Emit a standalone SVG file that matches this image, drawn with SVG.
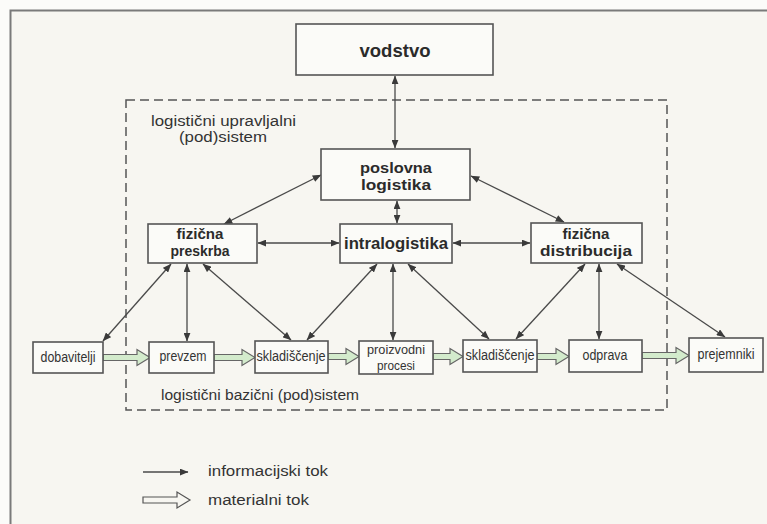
<svg xmlns="http://www.w3.org/2000/svg" width="767" height="524" viewBox="0 0 767 524">
  <style>
    .box { fill: #fbfbf8; stroke: #555; stroke-width: 1.6; }
    .big { font-family: "Liberation Sans", Arial, sans-serif; font-weight: bold; fill: #2b2b2b; text-anchor: middle; }
    .small { font-family: "Liberation Sans", Arial, sans-serif; fill: #333; text-anchor: middle; }
    .lbl { font-family: "Liberation Sans", Arial, sans-serif; fill: #333; }
    .info { stroke: #4a4a4a; stroke-width: 1.3; fill: none; marker-start: url(#ah); marker-end: url(#ah); }
    .mat { fill: #d3ebcc; stroke: #666; stroke-width: 1.2; stroke-linejoin: miter; }
  </style>
  <defs>
    <marker id="ah" viewBox="0 0 10 8" refX="9.5" refY="4" markerWidth="9" markerHeight="7" markerUnits="userSpaceOnUse" orient="auto-start-reverse">
      <path d="M0,0 L10,4 L0,8 z" fill="#3a3a3a"/>
    </marker>
  </defs>

  <!-- page background and frame -->
  <rect x="0" y="0" width="767" height="524" fill="#fbfbf9"/>
  <rect x="10" y="10" width="757" height="514" fill="#f7f6f1"/>
  <path d="M10.5,524 L10.5,10.5 L767,10.5" fill="none" stroke="#7a7a7a" stroke-width="2"/>

  <!-- dashed subsystem boundary -->
  <rect id="subsystem" x="126" y="100" width="541" height="310" fill="none" stroke="#555" stroke-width="1.5" stroke-dasharray="9,5"/>
  <text class="lbl" x="151" y="126" font-size="15.5" textLength="145" lengthAdjust="spacingAndGlyphs">logistični upravljalni</text>
  <text class="lbl" x="179" y="142" font-size="15.5" textLength="88" lengthAdjust="spacingAndGlyphs">(pod)sistem</text>
  <text class="lbl" x="161" y="400" font-size="15.5" textLength="198" lengthAdjust="spacingAndGlyphs">logistični bazični (pod)sistem</text>

  <!-- connectors -->
  <g id="connectors">
    <line class="info" x1="395" y1="76" x2="395" y2="148"/>
    <line class="info" x1="321" y1="175" x2="224" y2="224"/>
    <line class="info" x1="471" y1="176" x2="564" y2="222"/>
    <line class="info" x1="397" y1="201" x2="397" y2="223"/>
    <line class="info" x1="258" y1="243" x2="339" y2="243"/>
    <line class="info" x1="453" y1="243" x2="530" y2="243"/>
    <line class="info" x1="171" y1="264" x2="103" y2="341"/>
    <line class="info" x1="187" y1="264" x2="187" y2="341"/>
    <line class="info" x1="203" y1="264" x2="291" y2="340"/>
    <line class="info" x1="377" y1="264" x2="307" y2="340"/>
    <line class="info" x1="393" y1="264" x2="393" y2="340"/>
    <line class="info" x1="408" y1="264" x2="489" y2="339"/>
    <line class="info" x1="585" y1="264" x2="516" y2="339"/>
    <line class="info" x1="599" y1="264" x2="599" y2="339"/>
    <line class="info" x1="617" y1="264" x2="725" y2="337"/>

    <!-- material flow arrows -->
    <path class="mat" d="M103,354.5 L137,354.5 L137,349.5 L150,357.5 L137,365.5 L137,360.5 L103,360.5 Z"/>
    <path class="mat" d="M214,354.5 L242,354.5 L242,349.5 L255,357.5 L242,365.5 L242,360.5 L214,360.5 Z"/>
    <path class="mat" d="M328,353.5 L346,353.5 L346,348.5 L359,356.5 L346,364.5 L346,359.5 L328,359.5 Z"/>
    <path class="mat" d="M433,353.5 L450,353.5 L450,348.5 L463,356.5 L450,364.5 L450,359.5 L433,359.5 Z"/>
    <path class="mat" d="M537,353.5 L556,353.5 L556,348.5 L569,356.5 L556,364.5 L556,359.5 L537,359.5 Z"/>
    <path class="mat" d="M642,352.5 L676,352.5 L676,347.5 L689,355.5 L676,363.5 L676,358.5 L642,358.5 Z"/>
  </g>

  <!-- nodes -->
  <g id="vodstvo">
    <rect class="box" x="296" y="24" width="197" height="51"/>
    <text class="big" x="395" y="57" font-size="19" textLength="71" lengthAdjust="spacingAndGlyphs">vodstvo</text>
  </g>
  <g id="poslovna-logistika">
    <rect class="box" x="321" y="149" width="149" height="51"/>
    <text class="big" x="396" y="173" font-size="15" textLength="72" lengthAdjust="spacingAndGlyphs">poslovna</text>
    <text class="big" x="396" y="190" font-size="15" textLength="70" lengthAdjust="spacingAndGlyphs">logistika</text>
  </g>
  <g id="fizicna-preskrba">
    <rect class="box" x="148" y="224" width="109" height="39"/>
    <text class="big" x="200" y="239" font-size="15" textLength="47" lengthAdjust="spacingAndGlyphs">fizična</text>
    <text class="big" x="200" y="256" font-size="15" textLength="59" lengthAdjust="spacingAndGlyphs">preskrba</text>
  </g>
  <g id="intralogistika">
    <rect class="box" x="340" y="224" width="112" height="39"/>
    <text class="big" x="396" y="249" font-size="17" textLength="104" lengthAdjust="spacingAndGlyphs">intralogistika</text>
  </g>
  <g id="fizicna-distribucija">
    <rect class="box" x="531" y="223" width="111" height="40"/>
    <text class="big" x="586" y="239" font-size="15" textLength="47" lengthAdjust="spacingAndGlyphs">fizična</text>
    <text class="big" x="586" y="256" font-size="15" textLength="92" lengthAdjust="spacingAndGlyphs">distribucija</text>
  </g>

  <g id="dobavitelji">
    <rect class="box" x="33" y="342" width="70" height="31"/>
    <text class="small" x="68" y="362" font-size="14" textLength="55" lengthAdjust="spacingAndGlyphs">dobavitelji</text>
  </g>
  <g id="prevzem">
    <rect class="box" x="149" y="342" width="65" height="31"/>
    <text class="small" x="183" y="361" font-size="14" textLength="47" lengthAdjust="spacingAndGlyphs">prevzem</text>
  </g>
  <g id="skladiscenje-1">
    <rect class="box" x="255" y="341" width="73" height="32"/>
    <text class="small" x="291" y="361" font-size="14" textLength="69" lengthAdjust="spacingAndGlyphs">skladiščenje</text>
  </g>
  <g id="proizvodni-procesi">
    <rect class="box" x="359" y="341" width="74" height="33"/>
    <text class="small" x="396" y="354" font-size="13" textLength="58" lengthAdjust="spacingAndGlyphs">proizvodni</text>
    <text class="small" x="396" y="370" font-size="13" textLength="38" lengthAdjust="spacingAndGlyphs">procesi</text>
  </g>
  <g id="skladiscenje-2">
    <rect class="box" x="463" y="340" width="74" height="32"/>
    <text class="small" x="500" y="360" font-size="14" textLength="69" lengthAdjust="spacingAndGlyphs">skladiščenje</text>
  </g>
  <g id="odprava">
    <rect class="box" x="569" y="340" width="73" height="32"/>
    <text class="small" x="605" y="360" font-size="14" textLength="45" lengthAdjust="spacingAndGlyphs">odprava</text>
  </g>
  <g id="prejemniki">
    <rect class="box" x="689" y="338" width="74" height="34"/>
    <text class="small" x="726" y="359" font-size="14" textLength="57" lengthAdjust="spacingAndGlyphs">prejemniki</text>
  </g>

  <!-- legend -->
  <g id="legend">
    <line x1="143" y1="472" x2="188" y2="472" stroke="#4a4a4a" stroke-width="1.3" marker-end="url(#ah)"/>
    <text class="lbl" x="208" y="476" font-size="15.5" textLength="120" lengthAdjust="spacingAndGlyphs">informacijski tok</text>
    <path d="M143,497 L177,497 L177,492 L190,500 L177,508 L177,503 L143,503 Z" fill="#f7f6f1" stroke="#555" stroke-width="1.2"/>
    <text class="lbl" x="208" y="505" font-size="15.5" textLength="101" lengthAdjust="spacingAndGlyphs">materialni tok</text>
  </g>
</svg>
